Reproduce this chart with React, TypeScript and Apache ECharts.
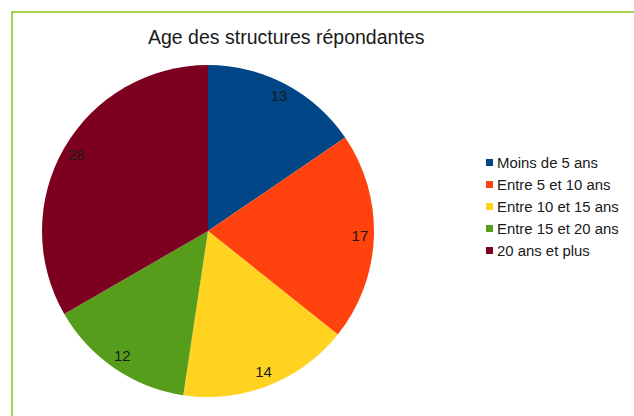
import React, { useEffect, useRef } from "react";
import * as echarts from "echarts";

const categories = ["Moins de 5 ans", "Entre 5 et 10 ans", "Entre 10 et 15 ans", "Entre 15 et 20 ans", "20 ans et plus"];
const values = [13, 17, 14, 12, 28];
const colors = ["#004586", "#ff420e", "#ffd320", "#579d1c", "#7e0021"];
const titleText = "Age des structures répondantes";

export default function App() {
  const ref = useRef<HTMLDivElement>(null);
  useEffect(() => {
    if (!ref.current) return;
    const chart = echarts.init(ref.current, undefined, { renderer: "svg" });
    const data = categories.map((name, i) => ({ name, value: values[i], itemStyle: { color: colors[i] } }));
    chart.setOption({
      animation: false,
      backgroundColor: "#ffffff",
      textStyle: { fontFamily: "Liberation Sans" },
      title: {
        text: titleText,
        left: 148,
        top: 27,
        padding: 0,
        textStyle: { fontSize: 19.5, fontWeight: "normal", color: "#1a1a1a", fontFamily: "Liberation Sans" },
      },
      legend: {
        orient: "vertical",
        left: 486,
        top: 155,
        itemWidth: 7,
        itemHeight: 7,
        itemGap: 7,
        icon: "rect",
        padding: 0,
        textStyle: { fontSize: 14.9, lineHeight: 15, color: "#1a1a1a", fontFamily: "Liberation Sans", padding: [0, 0, 0, -1] },
        data: categories,
      },
      graphic: [
        {
          type: "rect",
          shape: { x: 12, y: 12, width: 700, height: 500 },
          style: { fill: "none", stroke: "#86c314", lineWidth: 1.5 },
          silent: true,
        },
      ],
      series: [
        {
          type: "pie",
          center: [208, 231],
          radius: [0, 166],
          startAngle: 90,
          clockwise: true,
          label: { show: false },
          labelLine: { show: false },
          emphasis: { disabled: true },
          data,
        },
        {
          type: "pie",
          center: [208, 230],
          radius: [132, 166],
          startAngle: 90,
          clockwise: true,
          silent: true,
          legendHoverLink: false,
          itemStyle: { color: "rgba(0,0,0,0)" },
          label: {
            show: true,
            position: "inside",
            formatter: "{c}",
            fontSize: 15,
            color: "#1a1a1a",
            fontFamily: "Liberation Sans",
          },
          labelLine: { show: false },
          emphasis: { disabled: true },
          data: categories.map((name, i) => ({ name: name + " ", value: values[i] })),
        },
      ],
    });
    return () => chart.dispose();
  }, []);
  return <div ref={ref} style={{ position: "absolute", left: 0, top: 0, width: 634, height: 416 }} />;
}
